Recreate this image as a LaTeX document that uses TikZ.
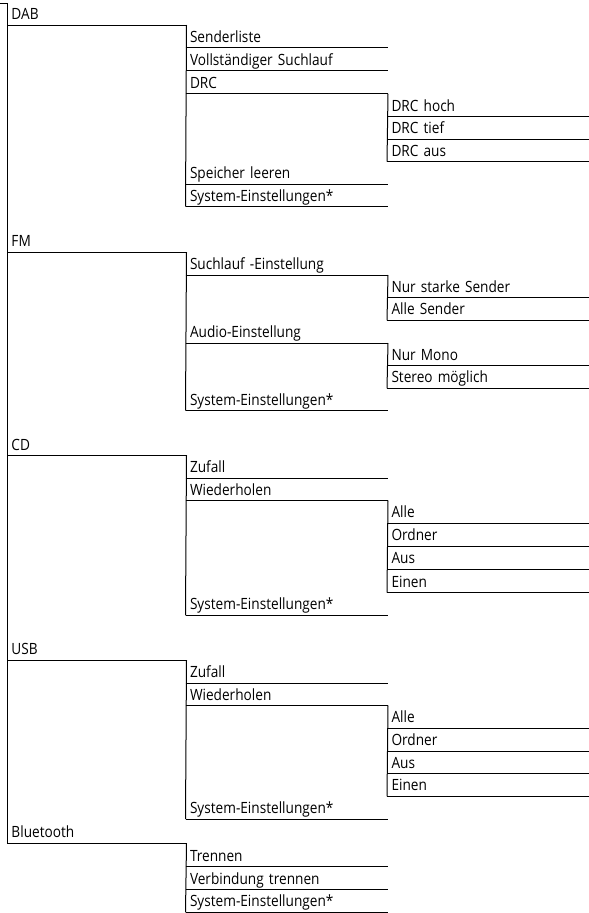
\documentclass[tikz,border=0pt]{standalone}
\usepackage{fontspec}
\setmainfont[FakeStretch=0.88]{Open Sans}
\begin{document}
\begin{tikzpicture}[x=1pt,y=-1pt,line width=1pt,
  base/.style={anchor=south west,inner ysep=0pt,inner xsep=4pt,text height=11pt,text depth=5pt,align=left,font=\fontsize{15.5}{17}\selectfont,text=black},
  lvA/.style={base,text width=170.5pt},
  lvB/.style={base,text width=193.5pt},
  lvC/.style={base,text width=194pt}]
\useasboundingbox (0,0) rectangle (589,913);
\coordinate (root) at (0,3);
% level 0
\node[lvA] (dab) at (7,25) {DAB};
\node[lvA] (fm) at (7,252.3) {FM};
\node[lvA] (cd) at (7,455.7) {CD};
\node[lvA] (usb) at (7,660) {USB};
\node[lvA] (bt) at (7,843.3) {Bluetooth};
% level 1
\node[lvB] (senderliste) at (185.5,47.7) {Senderliste};
\node[lvB] (suchlauf) at (185.5,70.5) {Vollständiger Suchlauf};
\node[lvB] (drc) at (185.5,93.8) {DRC};
\node[lvB] (speicher) at (185.5,184.3) {Speicher leeren};
\node[lvB] (dabsys) at (185.5,206.7) {System-Einstellungen*};
\node[lvB] (fmsuch) at (185.5,275) {Suchlauf -Einstellung};
\node[lvB] (audio) at (185.5,343) {Audio-Einstellung};
\node[lvB] (fmsys) at (185.5,410.5) {System-Einstellungen*};
\node[lvB] (cdzuf) at (185.5,478.3) {Zufall};
\node[lvB] (cdwied) at (185.5,500.7) {Wiederholen};
\node[lvB] (cdsys) at (185.5,615.3) {System-Einstellungen*};
\node[lvB] (usbzuf) at (185.5,683) {Zufall};
\node[lvB] (usbwied) at (185.5,705.7) {Wiederholen};
\node[lvB] (usbsys) at (185.5,819) {System-Einstellungen*};
\node[lvB] (trennen) at (185.5,866.7) {Trennen};
\node[lvB] (verbtr) at (185.5,889.5) {Verbindung trennen};
\node[lvB] (btsys) at (185.5,912.3) {System-Einstellungen*};
% level 2
\node[lvC] (drchoch) at (387,116.7) {DRC hoch};
\node[lvC] (drctief) at (387,139.2) {DRC tief};
\node[lvC] (drcaus) at (387,161.7) {DRC aus};
\node[lvC] (starke) at (387,297.7) {Nur starke Sender};
\node[lvC] (allesender) at (387,320.3) {Alle Sender};
\node[lvC] (mono) at (387,365.7) {Nur Mono};
\node[lvC] (stereo) at (387,388.3) {Stereo möglich};
\node[lvC] (cdalle) at (387,523.3) {Alle};
\node[lvC] (cdordner) at (387,546) {Ordner};
\node[lvC] (cdaus) at (387,569) {Aus};
\node[lvC] (cdeinen) at (387,592.7) {Einen};
\node[lvC] (usballe) at (387,728.3) {Alle};
\node[lvC] (usbordner) at (387,751) {Ordner};
\node[lvC] (usbaus) at (387,773.7) {Aus};
\node[lvC] (usbeinen) at (387,796.3) {Einen};
% underlines
\foreach \n in {dab,fm,cd,usb,bt,senderliste,suchlauf,drc,speicher,dabsys,fmsuch,audio,fmsys,cdzuf,cdwied,cdsys,usbzuf,usbwied,usbsys,trennen,verbtr,btsys,drchoch,drctief,drcaus,starke,allesender,mono,stereo,cdalle,cdordner,cdaus,cdeinen,usballe,usbordner,usbaus,usbeinen}
  \draw (\n.south west) -- (\n.south east);
% tree connectors
\draw (root) -| (bt.south west);
\draw (dab.south east) -- (dabsys.south west);
\draw (drc.south east) -- (drcaus.south west);
\draw (fm.south east) -- (fmsys.south west);
\draw (fmsuch.south east) -- (allesender.south west);
\draw (audio.south east) -- (stereo.south west);
\draw (cd.south east) -- (cdsys.south west);
\draw (cdwied.south east) -- (cdeinen.south west);
\draw (usb.south east) -- (usbsys.south west);
\draw (usbwied.south east) -- (usbeinen.south west);
\draw (bt.south east) -- (btsys.south west);
\end{tikzpicture}
\end{document}
